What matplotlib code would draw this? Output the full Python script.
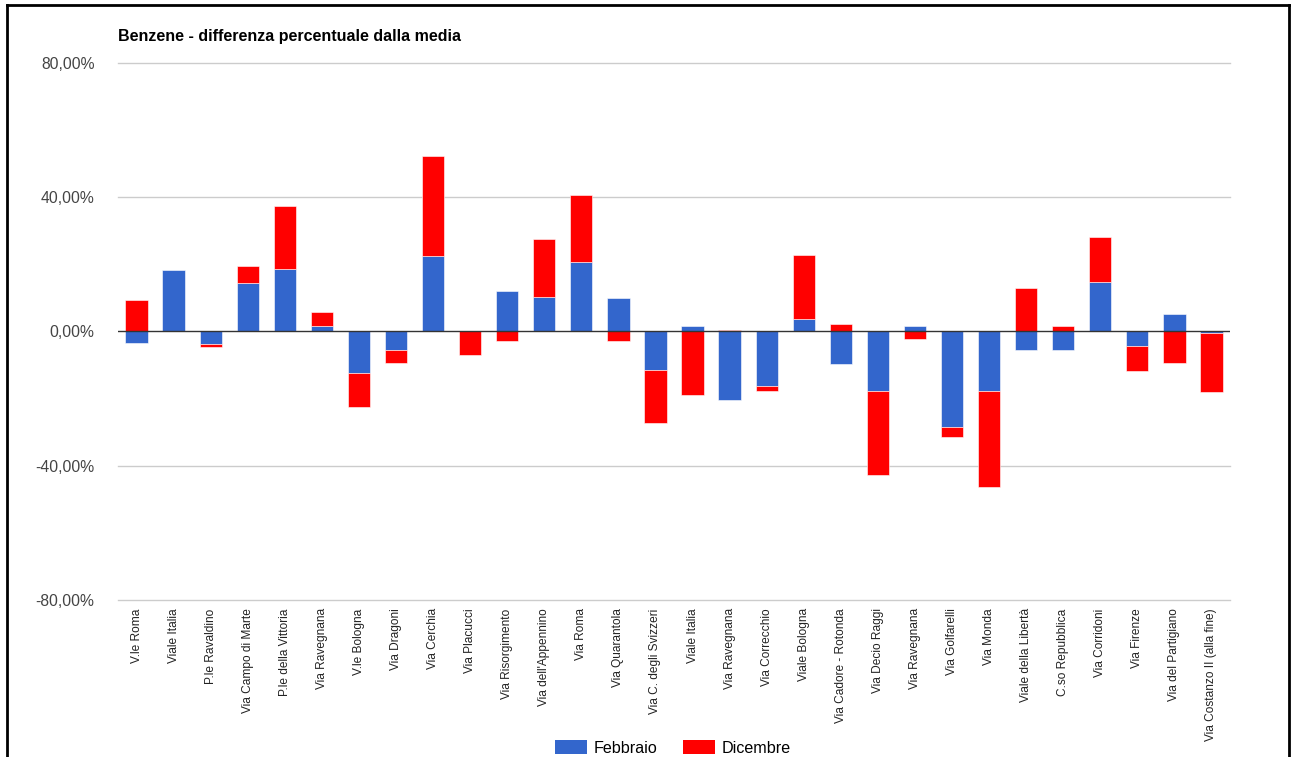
import numpy as np
import matplotlib
matplotlib.use('Agg')
import matplotlib.pyplot as plt
from matplotlib.patches import Patch
from matplotlib.lines import Line2D
from matplotlib.ticker import FuncFormatter

plt.rcParams['font.family'] = ['Liberation Sans', 'DejaVu Sans']

stazioni = ['V.le Roma', 'Viale Italia', 'P.le Ravaldino', 'Via Campo di Marte',
            'P.le della Vittoria', 'Via Ravegnana', 'V.le Bologna', 'Via Dragoni',
            'Via Cerchia', 'Via Placucci', 'Via Risorgimento', "Via dell'Appennino",
            'Via Roma', 'Via Quarantola', 'Via C. degli Svizzeri', 'Viale Italia',
            'Via Ravegnana', 'Via Correcchio', 'Viale Bologna', 'Via Cadore - Rotonda',
            'Via Decio Raggi', 'Via Ravegnana', 'Via Golfarelli', 'Via Monda',
            'Viale della Libertà', 'C.so Repubblica', 'Via Corridoni', 'Via Firenze',
            'Via del Partigiano', 'Via Costanzo II (alla fine)']

febbraio = [-3.3, 18.2, -3.6, 14.4, 18.6, 1.5, -12.3, -5.6, 22.6, 0.2,
            12.1, 10.2, 20.7, 10.1, -11.6, 1.5, -20.4, -16.3, 3.6, -9.6,
            -17.8, 1.7, -28.4, -17.7, -5.4, -5.4, 14.6, -4.3, 5.3, -0.4]

dicembre = [9.5, 0.0, -1.0, 5.2, 18.7, 4.4, -10.2, -3.7, 29.7, -7.0,
            -2.8, 17.5, 19.9, -2.8, -15.7, -18.9, 0.3, -1.4, 19.3, 2.3,
            -24.9, -2.2, -3.1, -28.7, 13.1, 1.7, 13.5, -7.4, -9.3, -17.7]

tick_y = [-80, -40, 0, 40, 80]

feb = np.array(febbraio)
dic = np.array(dicembre)
# positivi e negativi impilati separatamente
base = np.where(np.sign(feb) == np.sign(dic), feb, 0)

x = np.arange(len(stazioni))

fig = plt.figure(figsize=(12.92, 7.57), dpi=100)
ax = fig.add_axes([118/1292, 1 - 600/757, (1230 - 118)/1292, (600 - 63)/757])

blu = '#3366cc'
rosso = '#ff0000'
ax.bar(x, feb, width=0.6, color=blu, edgecolor='white', linewidth=0.4, zorder=3)
ax.bar(x, dic, width=0.6, bottom=base, color=rosso, edgecolor='white', linewidth=0.4, zorder=3)

ax.set_xlim(-0.5, len(stazioni) - 0.5)
ax.set_ylim(-80, 80)
ax.set_yticks(tick_y)
ax.yaxis.set_major_formatter(FuncFormatter(lambda v, p: f'{v:.2f}'.replace('.', ',') + '%'))
for t in tick_y:
    if t != 0:
        ax.axhline(t, color='#cccccc', linewidth=1, zorder=0, clip_on=False)
ax.axhline(0, color='#333333', linewidth=1, zorder=4)
for s in ax.spines.values():
    s.set_visible(False)
ax.tick_params(axis='y', length=0, pad=17, labelsize=11.3, labelcolor='#444444')
ax.set_xticks(x)
ax.set_xticklabels(stazioni, rotation=90, fontsize=8.6, color='#222222', va='top')
ax.tick_params(axis='x', length=0, pad=6)

fig.text(118/1292, 1 - 36/757, 'Benzene - differenza percentuale dalla media',
         fontsize=11.5, fontweight='bold', va='center', ha='left', color='#000000')

handles = [Patch(facecolor=blu, label='Febbraio'), Patch(facecolor=rosso, label='Dicembre')]
fig.legend(handles=handles, loc='center', bbox_to_anchor=(673/1292, 1 - 748/757),
           ncol=2, frameon=False, fontsize=11.6, handlelength=2.0, handleheight=0.9,
           handletextpad=0.4, columnspacing=1.6, borderpad=0)

# cornice nera attorno all'immagine
fig.add_artist(Line2D([6.5/1292, 6.5/1292], [0, 1 - 5/757], color='black', linewidth=2,
                      transform=fig.transFigure))
fig.add_artist(Line2D([6.5/1292, 1289/1292], [1 - 5/757, 1 - 5/757], color='black', linewidth=2,
                      transform=fig.transFigure))
fig.add_artist(Line2D([1289/1292, 1289/1292], [0, 1 - 5/757], color='black', linewidth=2,
                      transform=fig.transFigure))

fig.savefig('out.png', dpi=100, facecolor='white')
